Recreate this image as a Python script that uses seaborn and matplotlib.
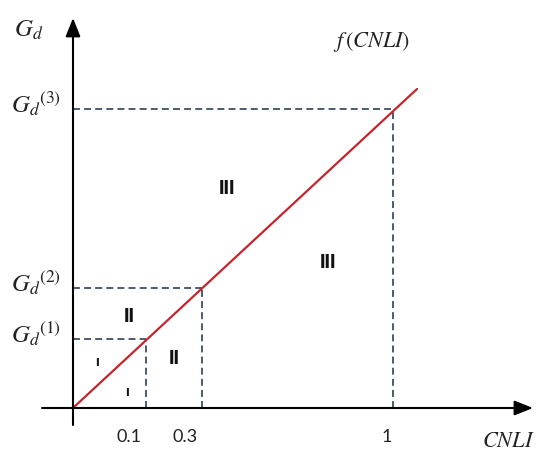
import matplotlib
matplotlib.use("Agg")
import matplotlib.pyplot as plt
import seaborn as sns
import pandas as pd

sns.set_style("white")
plt.rcParams['font.family'] = ['Lato', 'DejaVu Sans']
plt.rcParams['mathtext.fontset'] = 'stix'
plt.rcParams['lines.scale_dashes'] = False

# schematic data (diagram units)
tick_pos = [0.73, 1.29, 3.20]          # threshold positions on CNLI axis
tick_labels = ["0.1", "0.3", "1"]
g_levels = [0.69, 1.20, 2.99]           # G_d^(1), G_d^(2), G_d^(3)
g_labels = [r"$G_d{}^{(1)}$", r"$G_d{}^{(2)}$", r"$G_d{}^{(3)}$"]
line_x = [0.0, 3.44]
line_y = [0.0, 3.19]
region_labels = ["I", "I", "II", "II", "III", "III"]
region_x = [0.24, 0.54, 0.56, 1.01, 1.54, 2.55]
region_y = [0.46, 0.16, 0.91, 0.50, 2.20, 1.46]

fig = plt.figure(figsize=(5.39, 4.51), dpi=100)
ax = fig.add_axes([0, 0, 1, 1])
ax.set_xlim(-0.73, 4.66)
ax.set_ylim(-0.43, 4.08)
ax.axis("off")

dash_col = "#3d4f63"
dash = (0, (5.0, 3.0))
for xp, gl in zip(tick_pos, g_levels):
    ax.plot([xp, xp], [0, gl], color=dash_col, lw=1.3, linestyle=dash)
    ax.plot([0, xp], [gl, gl], color=dash_col, lw=1.3, linestyle=dash)

# axes with arrows
arrow_style = '-|>,head_length=0.8,head_width=0.32'
ax.annotate("", xy=(4.60, 0), xytext=(-0.31, 0),
            arrowprops=dict(arrowstyle=arrow_style, mutation_scale=14, lw=1.5, color='black', shrinkA=0, shrinkB=0))
ax.annotate("", xy=(0, 3.90), xytext=(0, -0.17),
            arrowprops=dict(arrowstyle=arrow_style, mutation_scale=14, lw=1.5, color='black', shrinkA=0, shrinkB=0))

df = pd.DataFrame({"x": line_x, "y": line_y})
sns.lineplot(data=df, x="x", y="y", ax=ax, color="#c4252c", lw=1.6)

for lab, xp in zip(tick_labels, tick_pos):
    ax.text(xp - 0.17 if lab != "1" else xp - 0.06, -0.29, lab, ha='center', va='center', fontsize=13, color='#222222')

for lab, gl in zip(g_labels, g_levels):
    ax.text(-0.37, gl + 0.05, lab, ha='center', va='center', fontsize=18, color='#222222')

ax.text(-0.44, 3.78, r"$G_d$", ha='center', va='center', fontsize=18, color='#222222')
ax.text(4.35, -0.33, r"$CNLI$", ha='center', va='center', fontsize=16, color='#222222')
ax.text(2.99, 3.66, r"$f\,(CNLI)$", ha='center', va='center', fontsize=16, color='#222222')

for lab, xr, yr in zip(region_labels, region_x, region_y):
    fs = 8.5 if lab == "I" else 13
    ax.text(xr, yr, lab, ha='center', va='center', fontsize=fs, fontweight='heavy', color='#111111')

fig.savefig("out.png", dpi=100)
